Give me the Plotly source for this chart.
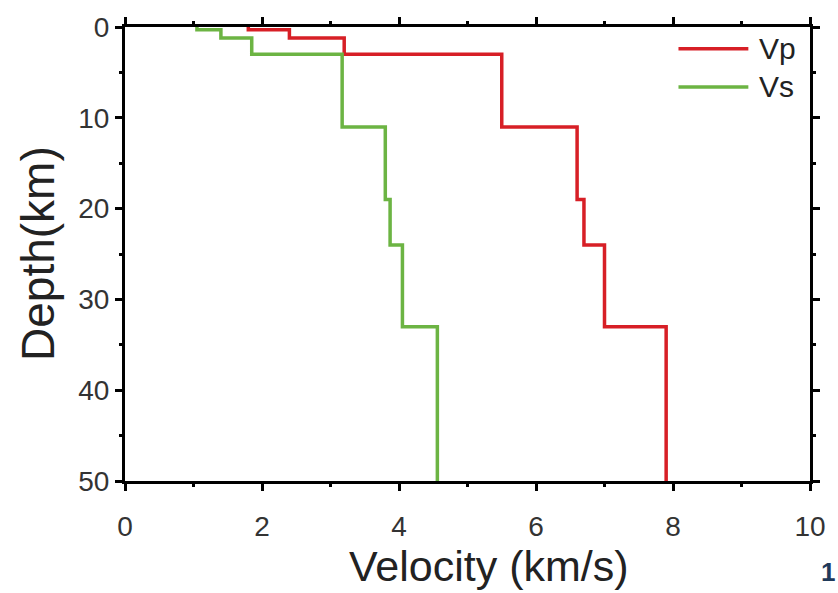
import plotly.graph_objects as go

# Layer tops (km) and velocities (km/s)
layer_tops = [0, 0.3, 1.2, 3.0, 11, 19, 24, 33]
bottom_depth = 50
vp = [1.8, 2.4, 3.2, 5.5, 6.6, 6.7, 7.0, 7.9]
vs = [1.05, 1.4, 1.85, 3.17, 3.8, 3.87, 4.05, 4.56]

x_ticks = [0, 2, 4, 6, 8, 10]
y_ticks = [0, 10, 20, 30, 40, 50]

red = "#d71f26"
green = "#6cb443"
FONT = "Liberation Sans, Arial"

fig = go.Figure()
depths = layer_tops + [bottom_depth]
fig.add_trace(go.Scatter(x=vp + [vp[-1]], y=depths, mode="lines", line_shape="vh",
                         line=dict(color=red, width=3.5), name="Vp", showlegend=False))
fig.add_trace(go.Scatter(x=vs + [vs[-1]], y=depths, mode="lines", line_shape="vh",
                         line=dict(color=green, width=3.5), name="Vs", showlegend=False))

# custom legend
for yy, col, name in [(0.952, red, "Vp"), (0.868, green, "Vs")]:
    fig.add_shape(type="line", xref="paper", yref="paper", x0=0.808, x1=0.910, y0=yy, y1=yy,
                  line=dict(color=col, width=3.5))
    fig.add_annotation(xref="paper", yref="paper", x=0.922, y=yy, text=name, showarrow=False,
                       xanchor="left", yanchor="middle",
                       font=dict(family=FONT, size=30, color="#222"))

# axis titles
fig.add_annotation(xref="paper", yref="paper", x=0.531, y=-0.2445, text="Velocity (km/s)",
                   showarrow=False, xanchor="center", yanchor="bottom",
                   font=dict(family=FONT, size=43, color="#222"))
fig.add_annotation(xref="paper", yref="paper", x=-0.127, y=0.5, text="Depth(km)", textangle=-90,
                   showarrow=False, xanchor="center", yanchor="middle",
                   font=dict(family=FONT, size=46, color="#222"))

fig.add_annotation(xref="paper", yref="paper", x=1.0, y=-0.2, text="<b>1</b>", showarrow=False,
                   xanchor="left", yanchor="middle", xshift=9,
                   font=dict(family=FONT, size=26, color="#1f3a5a"))

axis_common = dict(showgrid=False, zeroline=False, showline=True, linecolor="black", linewidth=3,
                   ticks="outside", ticklen=7, tickwidth=2.5, tickcolor="black", mirror="ticks",
                   tickfont=dict(family=FONT, size=28, color="#333"))

fig.update_xaxes(range=[0, 10], tickvals=x_ticks, ticktext=[str(v) for v in x_ticks],
                 minor=dict(dtick=1, ticks="outside", ticklen=3, tickwidth=2.5, tickcolor="black"),
                 ticklabelstandoff=11,
                 **axis_common)
fig.update_yaxes(range=[50, 0], tickvals=y_ticks, ticktext=[str(v) for v in y_ticks],
                 minor=dict(dtick=5, ticks="outside", ticklen=3, tickwidth=2.5, tickcolor="black"),
                 ticklabelstandoff=0,
                 **axis_common)

fig.update_layout(width=838, height=593, margin=dict(l=125, r=26, t=27, b=112),
                  plot_bgcolor="white", paper_bgcolor="white", showlegend=False)

fig.write_html("out.html")
